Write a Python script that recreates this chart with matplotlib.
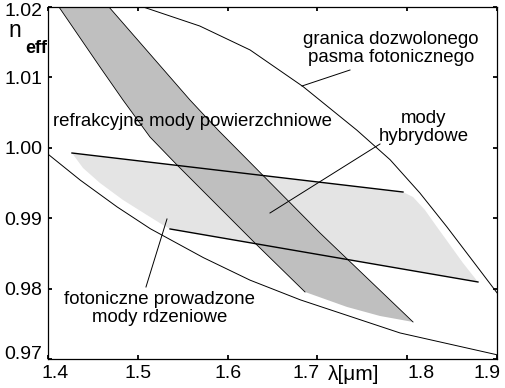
import numpy as np
import matplotlib
matplotlib.use('Agg')
import matplotlib.pyplot as plt
import matplotlib.transforms as mtransforms

plt.rcParams['font.family'] = ['Liberation Sans', 'DejaVu Sans']

# boundary of the allowed photonic band (upper curve)
upper_x = [1.506, 1.569, 1.625, 1.684, 1.744, 1.781, 1.814, 1.844, 1.878, 1.900]
upper_y = [1.0200, 1.0173, 1.0139, 1.0087, 1.0025, 0.9983, 0.9936, 0.9888, 0.9831, 0.9794]

# lower curve
lower_x = [1.400, 1.436, 1.477, 1.514, 1.573, 1.625, 1.681, 1.792, 1.900]
lower_y = [0.9991, 0.9954, 0.9916, 0.9885, 0.9844, 0.9812, 0.9784, 0.9737, 0.9706]

# hybrid modes region (light)
hyb_top_x = [1.4267, 1.7953]
hyb_top_y = [0.99926, 0.99372]
hyb_right_x = [1.8065, 1.8198, 1.8332, 1.8477, 1.8621, 1.8788]
hyb_right_y = [0.99301, 0.99116, 0.98875, 0.98619, 0.98364, 0.98094]
hyb_bot_x = [1.8788, 1.5359]
hyb_bot_y = [0.98094, 0.98847]
hyb_left_x = [1.5281, 1.5102, 1.4835, 1.4579, 1.4390]
hyb_left_y = [0.98903, 0.99045, 0.99259, 0.99500, 0.99713]

# refractive surface modes region (dark)
ref_left_x = [1.4122, 1.4579, 1.4835, 1.5136, 1.5437, 1.6327, 1.6862]
ref_left_y = [1.0200, 1.01148, 1.00679, 1.00153, 0.99756, 0.98619, 0.97952]
ref_bot_x = [1.7330, 1.7697, 1.8065]
ref_bot_y = [0.97739, 0.97611, 0.97526]
ref_right_x = [1.8065, 1.7029, 1.5893, 1.5581, 1.4679]
ref_right_y = [0.97526, 0.98790, 1.00253, 1.00679, 1.0200]

xticks = [1.4, 1.5, 1.6, 1.7, 1.8, 1.9]
yticks = [0.97, 0.98, 0.99, 1.00, 1.01, 1.02]
ytick_labels = ['0.97', '0.98', '0.99', '1.00', '1.01', '1.02']

W, H = 505, 388
fig = plt.figure(figsize=(W / 100, H / 100), dpi=100)
ax = fig.add_axes([48 / W, 1 - 359 / H, (497 - 48) / W, (359 - 7) / H])

fs = 14     # tick labels
afs = 13.4  # annotations

# light region
hx = hyb_top_x + hyb_right_x + hyb_bot_x[1:] + hyb_left_x
hy = hyb_top_y + hyb_right_y + hyb_bot_y[1:] + hyb_left_y
ax.fill(hx, hy, color='#e4e4e4', lw=0, zorder=1)

# dark region
rx = ref_left_x + ref_bot_x + ref_right_x
ry = ref_left_y + ref_bot_y + ref_right_y
ax.fill(rx, ry, color='#bfbfbf', lw=0, zorder=2)
ax.plot(ref_left_x, ref_left_y, color='k', lw=0.6, zorder=3)
ax.plot(ref_right_x, ref_right_y, color='k', lw=0.6, zorder=3)

ax.plot(hyb_top_x, hyb_top_y, color='k', lw=1.0, zorder=4)
ax.plot(hyb_bot_x, hyb_bot_y, color='k', lw=1.0, zorder=4)

ax.plot(upper_x, upper_y, color='k', lw=0.7, zorder=4)
ax.plot(lower_x, lower_y, color='k', lw=0.7, zorder=4)

# annotation pointers
ax.plot([1.7363, 1.6829], [1.01105, 1.00878], color='k', lw=0.7, zorder=5)
ax.plot([1.6472, 1.7697], [0.99074, 1.00054], color='k', lw=0.7, zorder=5)
ax.plot([1.5091, 1.5325], [0.98023, 0.98989], color='k', lw=0.7, zorder=5)

ax.text(1.782, 1.01411, 'granica dozwolonego\npasma fotonicznego', ha='center', va='center',
        fontsize=afs, linespacing=1.1, zorder=6)
ax.text(1.818, 1.00289, 'mody\nhybrydowe', ha='center', va='center',
        fontsize=afs, linespacing=1.1, zorder=6)
ax.text(1.5247, 0.97717, 'fotoniczne prowadzone\nmody rdzeniowe', ha='center', va='center',
        fontsize=afs, linespacing=1.12, zorder=6)
ax.text(1.5604, 1.00367, 'refrakcyjne mody powierzchniowe', ha='center', va='center',
        fontsize=afs, zorder=6)

ax.set_xlim(1.4, 1.9)
ax.set_ylim(0.97, 1.02)
ax.set_xticks(xticks)
ax.set_xticklabels([str(t) for t in xticks])
ax.set_yticks(yticks)
ax.set_yticklabels(ytick_labels)
ax.tick_params(direction='in', length=3, width=1.3, labelsize=fs, top=True, right=True, pad=4)
for s in ax.spines.values():
    s.set_linewidth(0.9)

# tick labels are nudged like in the original (room for the lambda label)
x_shift = [0.07, 0, 0, -0.11, 0.14, -0.10]
for lab, dx in zip(ax.get_xticklabels(), x_shift):
    lab.set_transform(lab.get_transform() + mtransforms.ScaledTranslation(dx, 0, fig.dpi_scale_trans))
yl = ax.get_yticklabels()
yl[0].set_transform(yl[0].get_transform() + mtransforms.ScaledTranslation(0, 0.06, fig.dpi_scale_trans))
yl[-1].set_transform(yl[-1].get_transform() + mtransforms.ScaledTranslation(0, -0.03, fig.dpi_scale_trans))

# wavelength label sits between the tick labels
ax.annotate('λ[μm]', xy=(1.7118, 0), xycoords=('data', 'axes fraction'),
            xytext=(0, -4), textcoords='offset points', ha='left', va='top', fontsize=15)

fig.text(8 / W, 1 - 37 / H, 'n', fontsize=16.5, ha='left', va='baseline')
fig.text(25 / W, 1 - 53 / H, 'eff', fontsize=13, fontweight='bold', ha='left', va='baseline')

fig.savefig('out.png', dpi=100)
